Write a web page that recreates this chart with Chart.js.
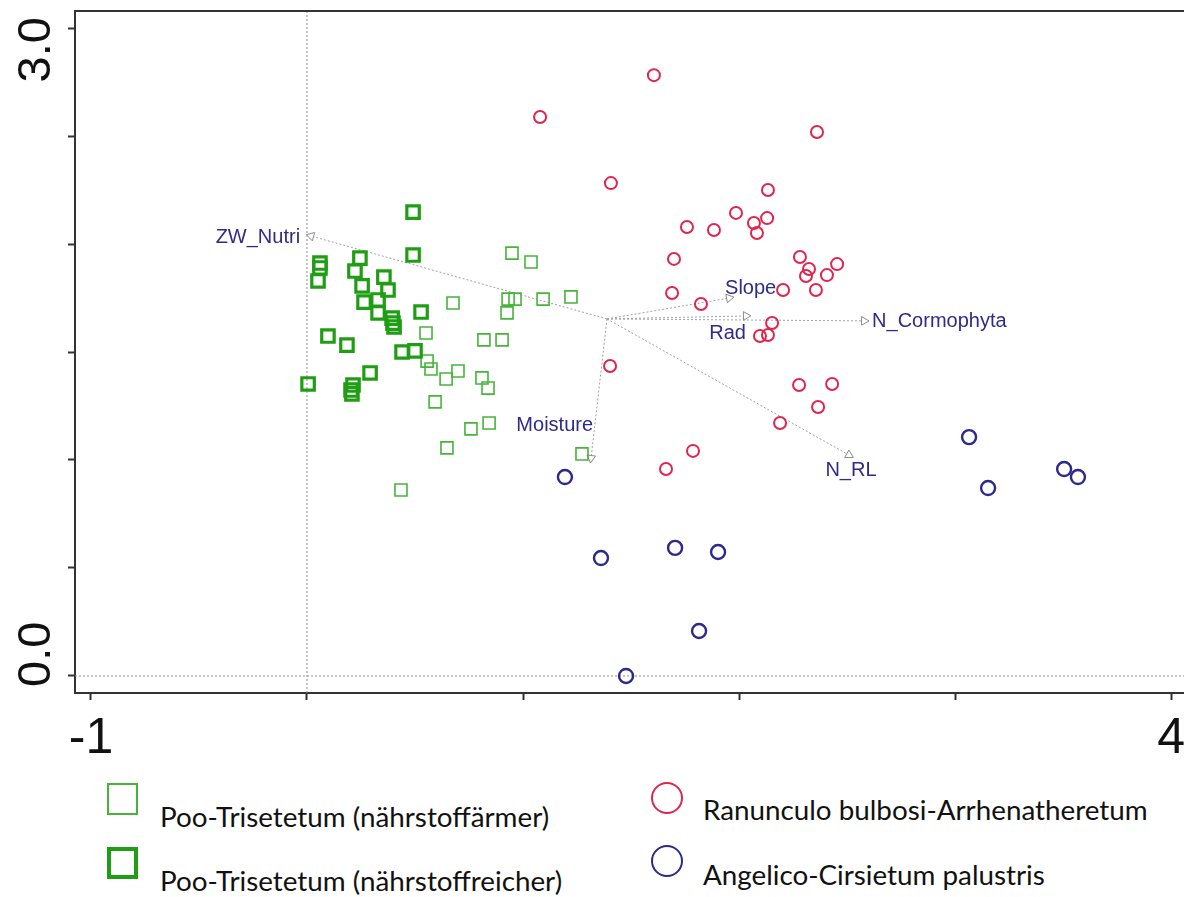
<!DOCTYPE html>
<html>
<head>
<meta charset="utf-8">
<script src="https://cdn.jsdelivr.net/npm/chart.js@4.4.0/dist/chart.umd.min.js"></script>
<style>
  body { margin: 0; background: #fff; }
  #wrap { position: relative; width: 1184px; height: 897px; overflow: hidden; }
  #chart { position: absolute; left: 0; top: 0; }
  .key { position: absolute; font-family: Lato, "Open Sans", sans-serif; font-size: 27.8px; line-height: 28px; color: #111; white-space: nowrap; }
  .sym { position: absolute; box-sizing: border-box; }
</style>
</head>
<body>
<div id="wrap">
  <canvas id="chart" width="1184" height="760"></canvas>
  <div id="legend"></div>
</div>
<script>
// axis ranges and ticks
const xMin = -1.074, xMax = 4.06;
const yMin = -0.079, yMax = 3.079;
const xTicks = [-1, 0, 1, 2, 3, 4];
const yTicks = [0, 0.5, 1, 1.5, 2, 2.5, 3];
const xTickLabels = ['-1', '', '', '', '', '4'];
const yTickLabels = ['0.0', '', '', '', '', '', '3.0'];

// plots (x, y) per community
const poorPlots = [[0.949,1.958],[1.037,1.917],[0.931,1.745],[0.963,1.745],[1.093,1.745],[1.222,1.755],
  [0.926,1.681],[0.676,1.727],[0.551,1.588],[0.819,1.556],[0.903,1.556],[0.556,1.458],[0.574,1.421],
  [0.644,1.375],[0.699,1.412],[0.810,1.380],[0.838,1.333],[0.593,1.269],[0.759,1.144],[0.843,1.171],
  [0.648,1.056],[1.273,1.028],[0.435,0.861]];
const richPlots = [[0.491,2.148],[0.491,1.949],[0.060,1.912],[0.060,1.889],[0.051,1.829],[0.245,1.935],
  [0.222,1.875],[0.356,1.847],[0.255,1.806],[0.375,1.787],[0.264,1.731],[0.329,1.741],[0.329,1.681],
  [0.394,1.657],[0.398,1.634],[0.403,1.616],[0.528,1.685],[0.097,1.574],[0.185,1.532],[0.440,1.500],
  [0.500,1.505],[0.292,1.403],[0.213,1.347],[0.204,1.324],[0.208,1.306],[0.005,1.352]];
const ranPlots = [[1.606,2.782],[1.079,2.588],[2.361,2.519],[1.407,2.282],[2.134,2.250],[1.986,2.144],
  [2.069,2.097],[2.130,2.120],[2.083,2.051],[1.759,2.079],[1.884,2.065],[1.699,1.931],[2.282,1.940],
  [2.454,1.907],[2.324,1.884],[2.310,1.852],[2.407,1.856],[2.356,1.787],[2.204,1.787],[1.690,1.773],
  [1.824,1.722],[2.153,1.634],[2.097,1.574],[2.134,1.579],[1.403,1.435],[2.278,1.347],[2.431,1.352],
  [2.366,1.245],[2.190,1.171],[1.787,1.042],[1.662,0.958]];
const angPlots = [[1.194,0.921],[1.361,0.546],[1.704,0.593],[1.903,0.574],[1.815,0.208],[1.477,0.000],
  [3.065,1.106],[3.153,0.870],[3.505,0.958],[3.569,0.921]];

// environmental vectors
const vectorNames = ['ZW_Nutri', 'Slope', 'Rad', 'N_Cormophyta', 'N_RL', 'Moisture'];
const vectorOrigin = [1.389, 1.653];
const vectorEnds = [[0.019,2.037],[1.954,1.750],[2.032,1.667],[2.579,1.644],[2.509,1.023],[1.315,1.009]];

const groupNames = ['Poo-Trisetetum (nährstoffärmer)', 'Poo-Trisetetum (nährstoffreicher)',
  'Ranunculo bulbosi-Arrhenatheretum', 'Angelico-Cirsietum palustris'];

// label placement for vector names (pixel offsets from arrow tip)
const labelPlacement = {
  'ZW_Nutri': { dx: -11, dy: 1, align: 'right' },
  'Slope': { dx: -4, dy: -10, align: 'left' },
  'Rad': { dx: 0, dy: 18, align: 'right' },
  'N_Cormophyta': { dx: 8, dy: 1, align: 'left' },
  'N_RL': { dx: 2, dy: 15, align: 'center' },
  'Moisture': { dx: 2, dy: -33, align: 'right' }
};

const lightGreen = '#45b53a', darkGreen = '#1f9e14', red = '#e0264c', navy = '#2b2a8c';

const toPts = arr => arr.map(p => ({ x: p[0], y: p[1] }));

function vectorDataset(i) {
  const end = vectorEnds[i];
  const ang = Math.atan2(end[0] - vectorOrigin[0], end[1] - vectorOrigin[1]) * 180 / Math.PI;
  return {
    label: vectorNames[i],
    data: [{ x: vectorOrigin[0], y: vectorOrigin[1] }, { x: end[0], y: end[1] }],
    showLine: true,
    borderColor: '#a0a0a0',
    borderWidth: 1,
    borderDash: [2, 2],
    pointStyle: 'triangle',
    pointRadius: [0, 5],
    pointRotation: [0, ang],
    pointBorderColor: '#8a8a8a',
    pointBackgroundColor: '#fff',
    pointBorderWidth: 1,
    order: 10
  };
}

function refLine(a, b) {
  return {
    data: [a, b],
    showLine: true,
    borderColor: '#8f8f8f',
    borderWidth: 1,
    borderDash: [2, 2],
    pointRadius: 0,
    order: 20
  };
}

const datasets = [
  refLine({ x: 0, y: yMin }, { x: 0, y: yMax }),
  refLine({ x: xMin, y: 0 }, { x: xMax, y: 0 }),
  ...vectorNames.map((n, i) => vectorDataset(i)),
  { label: groupNames[0], data: toPts(poorPlots), pointStyle: 'rect', pointRadius: 8.5,
    borderColor: lightGreen, backgroundColor: 'transparent', borderWidth: 1.6, order: 3 },
  { label: groupNames[1], data: toPts(richPlots), pointStyle: 'rect', pointRadius: 8.8,
    borderColor: darkGreen, backgroundColor: 'transparent', borderWidth: 3.2, order: 2 },
  { label: groupNames[2], data: toPts(ranPlots), pointStyle: 'circle', pointRadius: 6,
    borderColor: red, backgroundColor: 'transparent', borderWidth: 2, order: 1 },
  { label: groupNames[3], data: toPts(angPlots), pointStyle: 'circle', pointRadius: 7,
    borderColor: navy, backgroundColor: 'transparent', borderWidth: 2.4, order: 0 }
];

// box top edge, axis numbers and vector names
const decor = {
  id: 'decor',
  afterDatasetsDraw(chart) {
    const { ctx, chartArea: a, scales: { x, y } } = chart;
    ctx.save();
    ctx.strokeStyle = '#333';
    ctx.lineWidth = 2;
    ctx.beginPath();
    ctx.moveTo(a.left - 1, a.top);
    ctx.lineTo(a.right, a.top);
    ctx.stroke();

    ctx.fillStyle = '#111';
    ctx.font = '50px "Liberation Sans", Arial, sans-serif';
    ctx.textBaseline = 'alphabetic';
    ctx.textAlign = 'center';
    xTicks.forEach((v, i) => {
      if (xTickLabels[i]) ctx.fillText(xTickLabels[i], x.getPixelForValue(v), 753);
    });
    ctx.font = '47px "Liberation Sans", Arial, sans-serif';
    yTicks.forEach((v, i) => {
      if (!yTickLabels[i]) return;
      const last = i === yTicks.length - 1;
      const py = y.getPixelForValue(v) + (last ? -11 : 11);
      ctx.save();
      ctx.translate(50, py);
      ctx.rotate(-Math.PI / 2);
      ctx.textAlign = last ? 'right' : 'left';
      ctx.fillText(yTickLabels[i], 0, 0);
      ctx.restore();
    });

    ctx.font = '20px "Liberation Sans", Arial, sans-serif';
    ctx.fillStyle = '#2e2b8a';
    ctx.textBaseline = 'middle';
    vectorNames.forEach((n, i) => {
      const p = labelPlacement[n];
      ctx.textAlign = p.align;
      ctx.fillText(n, x.getPixelForValue(vectorEnds[i][0]) + p.dx, y.getPixelForValue(vectorEnds[i][1]) + p.dy);
    });
    ctx.restore();
  }
};

new Chart(document.getElementById('chart'), {
  type: 'scatter',
  data: { datasets: datasets },
  options: {
    responsive: false,
    animation: false,
    layout: { autoPadding: false, padding: { top: 11, left: 0, right: 0, bottom: 0 } },
    plugins: { legend: { display: false }, tooltip: { enabled: false } },
    scales: {
      x: {
        type: 'linear', min: xMin, max: xMax,
        afterBuildTicks: s => { s.ticks = xTicks.map(v => ({ value: v })); },
        afterFit: s => { s.height = 67; },
        ticks: { display: false },
        grid: { drawOnChartArea: false, drawTicks: true, tickLength: 7, tickWidth: 2, tickColor: '#333' },
        border: { display: true, color: '#333', width: 2 }
      },
      y: {
        type: 'linear', min: yMin, max: yMax,
        afterBuildTicks: s => { s.ticks = yTicks.map(v => ({ value: v })); },
        afterFit: s => { s.width = 75; },
        ticks: { display: false },
        grid: { drawOnChartArea: false, drawTicks: true, tickLength: 7, tickWidth: 2, tickColor: '#333' },
        border: { display: true, color: '#333', width: 2 }
      }
    }
  },
  plugins: [decor]
});

// legend below the plot, two columns
const legendItems = [
  { name: groupNames[0], shape: 'square', color: lightGreen, bw: 2, sx: 107, sy: 783, tx: 160, ty: 803 },
  { name: groupNames[1], shape: 'square', color: darkGreen, bw: 4, sx: 107, sy: 847, tx: 160, ty: 867 },
  { name: groupNames[2], shape: 'circle', color: red, bw: 2, sx: 651, sy: 782, tx: 703, ty: 796 },
  { name: groupNames[3], shape: 'circle', color: navy, bw: 2, sx: 651, sy: 845, tx: 703, ty: 861 }
];
const legend = document.getElementById('legend');
legendItems.forEach(it => {
  const s = document.createElement('div');
  s.className = 'sym';
  s.style.left = it.sx + 'px';
  s.style.top = it.sy + 'px';
  s.style.width = (it.shape === 'square' ? 31 : 32) + 'px';
  s.style.height = '32px';
  s.style.border = it.bw + 'px solid ' + it.color;
  if (it.shape === 'circle') s.style.borderRadius = '50%';
  legend.appendChild(s);
  const t = document.createElement('div');
  t.className = 'key';
  t.style.left = it.tx + 'px';
  t.style.top = it.ty + 'px';
  t.textContent = it.name;
  legend.appendChild(t);
});
</script>
</body>
</html>
